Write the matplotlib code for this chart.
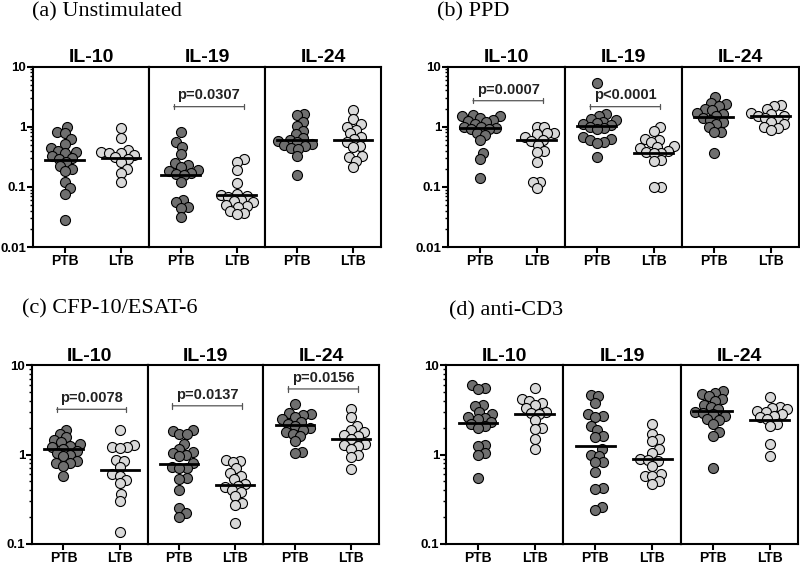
import numpy as np
import matplotlib.pyplot as plt
from matplotlib.ticker import LogLocator, FuncFormatter, NullFormatter

plt.rcParams['font.family'] = ['Liberation Sans', 'DejaVu Sans']

cytokines = ['IL-10', 'IL-19', 'IL-24']
groups = ['PTB', 'LTB']

# (a) Unstimulated
a_il10_ptb = [1.0, 0.80, 0.77, 0.62, 0.52, 0.44, 0.40, 0.38, 0.37, 0.33, 0.30, 0.29, 0.26, 0.22, 0.20, 0.18, 0.12, 0.094, 0.077, 0.028]
a_il10_ltb = [0.94, 0.64, 0.41, 0.38, 0.37, 0.36, 0.34, 0.31, 0.29, 0.26, 0.20, 0.17, 0.12]
a_il19_ptb = [0.83, 0.56, 0.46, 0.35, 0.25, 0.23, 0.21, 0.19, 0.18, 0.17, 0.165, 0.155, 0.12, 0.06, 0.056, 0.046, 0.045, 0.031]
a_il19_ltb = [0.285, 0.26, 0.19, 0.118, 0.075, 0.073, 0.071, 0.068, 0.060, 0.058, 0.055, 0.050, 0.048, 0.046, 0.040, 0.037, 0.035]
a_il24_ptb = [1.63, 1.57, 1.18, 1.04, 0.86, 0.75, 0.65, 0.60, 0.58, 0.55, 0.52, 0.50, 0.48, 0.45, 0.42, 0.32, 0.158]
a_il24_ltb = [1.9, 1.34, 1.1, 1.0, 0.88, 0.77, 0.68, 0.62, 0.56, 0.48, 0.46, 0.32, 0.31, 0.27, 0.21]
a_medians = [0.275, 0.30, 0.16, 0.072, 0.60, 0.60]
a_pvals = ['', 'p=0.0307', '']
a_pval_y = [None, 2.15, None]

# (b) PPD
b_il10_ptb = [1.55, 1.5, 1.48, 1.4, 1.3, 1.25, 1.2, 1.1, 1.0, 0.98, 0.95, 0.92, 0.9, 0.78, 0.72, 0.6, 0.37, 0.29, 0.138]
b_il10_ltb = [1.0, 1.0, 0.79, 0.77, 0.75, 0.68, 0.6, 0.58, 0.5, 0.4, 0.38, 0.26, 0.12, 0.12, 0.094]
b_il19_ptb = [5.4, 1.6, 1.5, 1.35, 1.3, 1.2, 1.15, 1.1, 1.05, 1.0, 0.95, 0.9, 0.68, 0.62, 0.59, 0.56, 0.53, 0.31]
b_il19_ltb = [1.0, 0.84, 0.63, 0.6, 0.55, 0.48, 0.46, 0.44, 0.40, 0.38, 0.37, 0.36, 0.28, 0.27, 0.10, 0.10]
b_il24_ptb = [3.16, 2.5, 2.4, 2.2, 2.0, 1.9, 1.7, 1.6, 1.5, 1.4, 1.3, 1.2, 1.1, 0.98, 0.82, 0.8, 0.36]
b_il24_ltb = [2.3, 2.2, 2.0, 1.7, 1.6, 1.5, 1.5, 1.4, 1.3, 1.2, 1.1, 1.0, 0.95, 0.88]
b_medians = [0.94, 0.6, 1.02, 0.37, 1.47, 1.5]
b_pvals = ['p=0.0007', 'p<0.0001', '']
b_pval_y = [2.7, 2.15, None]

# (c) CFP-10/ESAT-6
c_il10_ptb = [1.9, 1.7, 1.55, 1.45, 1.37, 1.3, 1.25, 1.2, 1.15, 1.1, 1.05, 1.0, 0.95, 0.85, 0.81, 0.8, 0.75, 0.57]
c_il10_ltb = [1.9, 1.27, 1.22, 1.2, 1.18, 0.87, 0.84, 0.72, 0.6, 0.58, 0.52, 0.48, 0.36, 0.30, 0.136]
c_il19_ptb = [1.87, 1.85, 1.7, 1.7, 1.32, 1.15, 1.06, 1.04, 1.0, 0.95, 0.8, 0.73, 0.71, 0.7, 0.54, 0.53, 0.40, 0.25, 0.22, 0.20]
c_il19_ltb = [0.87, 0.85, 0.83, 0.7, 0.62, 0.57, 0.53, 0.47, 0.45, 0.43, 0.40, 0.38, 0.34, 0.29, 0.27, 0.17]
c_il24_ptb = [3.7, 2.9, 2.8, 2.75, 2.6, 2.5, 2.3, 2.2, 2.1, 2.0, 1.9, 1.8, 1.7, 1.6, 1.4, 1.08, 1.04]
c_il24_ltb = [3.2, 2.6, 2.1, 1.9, 1.8, 1.65, 1.6, 1.5, 1.3, 1.27, 1.23, 1.15, 1.0, 0.93, 0.68]
c_medians = [1.14, 0.67, 0.79, 0.46, 2.12, 1.48]
c_pvals = ['p=0.0078', 'p=0.0137', 'p=0.0156']
c_pval_y = [3.2, 3.5, 5.4]

# (d) anti-CD3
d_il10_ptb = [6.0, 5.6, 5.4, 3.6, 3.5, 3.0, 2.8, 2.6, 2.55, 2.5, 2.3, 2.2, 2.1, 2.0, 1.27, 1.25, 1.05, 1.0, 0.54]
d_il10_ltb = [5.5, 4.2, 4.0, 3.8, 3.6, 3.3, 3.0, 2.9, 2.8, 2.4, 2.0, 1.95, 1.48, 1.16]
d_il19_ptb = [4.6, 4.5, 3.8, 2.8, 2.7, 2.6, 2.1, 1.86, 1.6, 1.55, 1.15, 1.0, 0.97, 0.83, 0.82, 0.64, 0.42, 0.41, 0.26, 0.24]
d_il19_ltb = [2.2, 1.7, 1.5, 1.4, 1.15, 1.05, 0.9, 0.87, 0.85, 0.75, 0.6, 0.58, 0.57, 0.5, 0.47]
d_il24_ptb = [5.1, 4.9, 4.7, 4.5, 4.2, 4.0, 3.6, 3.4, 3.2, 3.0, 2.9, 2.8, 2.7, 2.5, 2.4, 2.2, 1.8, 1.6, 0.7]
d_il24_ltb = [4.4, 3.4, 3.3, 3.2, 3.1, 3.0, 2.8, 2.7, 2.6, 2.5, 2.2, 2.1, 1.3, 0.95]
d_medians = [2.27, 2.8, 1.25, 0.9, 3.03, 2.45]
d_pvals = ['', '', '']
d_pval_y = [None, None, None]

W, H = 800, 567
DARK = '#6f6f6f'
LIGHT = '#d9d9d9'
colors = [DARK, LIGHT]
MARKER_S = 52
DIAM_PX = 10.0
MAX_SPREAD = 0.36  # data units either side of the group centre

fig = plt.figure(figsize=(8, 5.67), dpi=100)


def swarm_offsets(ax, values, center):
    """x offsets (data units) for a beeswarm, kept within MAX_SPREAD."""
    to_px = ax.transData.transform
    px_per_unit = to_px((1, 1))[0] - to_px((0, 1))[0]
    ys = np.array([to_px((center, v))[1] for v in values])
    d = DIAM_PX * 0.72
    cap = MAX_SPREAD * px_per_unit
    cands = [0.0]
    k = 1
    while k * 0.5 <= cap:
        cands += [k * 0.5, -k * 0.5]
        k += 1
    placed = []
    offs = np.zeros(len(values))
    for i in np.argsort(ys):
        y = ys[i]
        best, best_gap = 0.0, -1.0
        for dx in cands:
            gap = min([np.hypot(dx - px, y - py) for px, py in placed] or [1e9])
            if gap >= d:
                best = dx
                break
            if gap > best_gap + 0.5:
                best, best_gap = dx, gap
        placed.append((best, y))
        offs[i] = best / px_per_unit
    return offs


def draw_panel(left, right, top, bottom, ylo, data, medians, pvals, pval_y, heading, hx, hy):
    w = (right - left) / 3
    fig.text(hx / W, 1 - hy / H, heading, family=['Liberation Serif'], fontsize=16, va='baseline')
    for j in range(3):
        ax = fig.add_axes([(left + j * w) / W, 1 - bottom / H, w / W, (bottom - top) / H])
        ax.set_yscale('log')
        ax.set_ylim(ylo, 10)
        ax.set_xlim(-0.56, 1.5)
        for g in range(2):
            vals = data[2 * j + g]
            xs = g + swarm_offsets(ax, vals, g)
            ax.scatter(xs, vals, s=MARKER_S, facecolor=colors[g], edgecolor='black',
                       linewidth=0.8, zorder=3)
            ax.plot([g - 0.34, g + 0.34], [medians[2 * j + g]] * 2, color='black', lw=2, zorder=4)
        if pvals[j]:
            ax.annotate('', xy=(-0.17, pval_y[j]), xytext=(1.17, pval_y[j]),
                        arrowprops=dict(arrowstyle='|-|,widthA=0.2,widthB=0.2', color='#555555', lw=0.9))
            ax.annotate(pvals[j], xy=(0.5, pval_y[j]), xytext=(0, 3), textcoords='offset points',
                        ha='center', va='bottom', fontsize=10.5, fontweight='bold', color='#222222')
        ax.set_xticks([0, 1])
        ax.set_xticklabels(groups, fontsize=10, fontweight='bold')
        ax.tick_params(axis='x', length=4.5, width=1.5, pad=0.5, direction='out')
        for sp in ax.spines.values():
            sp.set_linewidth(1.5)
        ax.set_title(cytokines[j], fontsize=14, fontweight='bold', pad=3)
        if j == 0:
            ax.yaxis.set_major_locator(LogLocator(base=10))
            ax.yaxis.set_minor_locator(LogLocator(base=10, subs=np.arange(2, 10)))
            ax.yaxis.set_major_formatter(FuncFormatter(lambda v, p: f'{v:g}'))
            ax.yaxis.set_minor_formatter(NullFormatter())
            ax.tick_params(axis='y', which='major', length=4, width=1.5, pad=1, labelsize=9.5)
            ax.tick_params(axis='y', which='minor', length=2.5, width=1)
            for lab in ax.get_yticklabels():
                lab.set_fontweight('bold')
        else:
            ax.tick_params(axis='y', which='both', left=False, labelleft=False)


draw_panel(33, 381, 66.5, 247, 0.01,
           [a_il10_ptb, a_il10_ltb, a_il19_ptb, a_il19_ltb, a_il24_ptb, a_il24_ltb],
           a_medians, a_pvals, a_pval_y, '(a) Unstimulated', 32, 16)
draw_panel(448, 799, 66.5, 247, 0.01,
           [b_il10_ptb, b_il10_ltb, b_il19_ptb, b_il19_ltb, b_il24_ptb, b_il24_ltb],
           b_medians, b_pvals, b_pval_y, '(b) PPD', 437, 16)
draw_panel(32, 379, 365, 544, 0.1,
           [c_il10_ptb, c_il10_ltb, c_il19_ptb, c_il19_ltb, c_il24_ptb, c_il24_ltb],
           c_medians, c_pvals, c_pval_y, '(c) CFP-10/ESAT-6', 22, 313)
draw_panel(446, 798, 365, 544, 0.1,
           [d_il10_ptb, d_il10_ltb, d_il19_ptb, d_il19_ltb, d_il24_ptb, d_il24_ltb],
           d_medians, d_pvals, d_pval_y, '(d) anti-CD3', 449, 315)

fig.savefig('out.png', dpi=100)
